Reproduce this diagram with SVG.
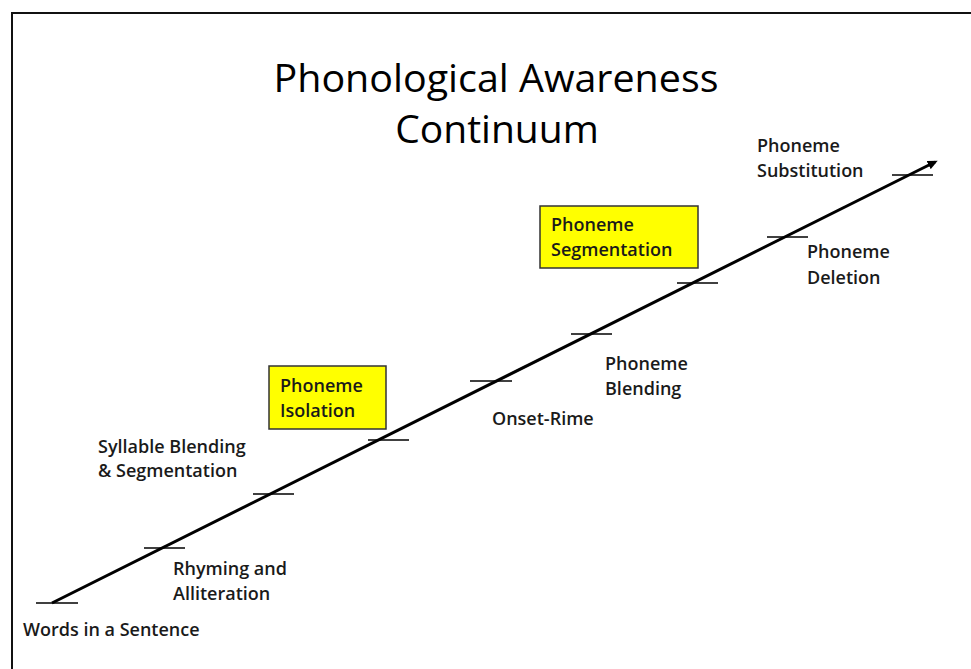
<svg xmlns="http://www.w3.org/2000/svg" width="971" height="669" viewBox="0 0 971 669">
<style>
.lbl{font-family:"Open Sans","Liberation Sans",sans-serif;font-size:18px;font-weight:600;fill:#1a1a1a;}
.title{font-family:"Open Sans","Liberation Sans",sans-serif;font-size:39px;fill:#000;text-anchor:middle;}
.tick{stroke:#000;stroke-width:1.3;}
.box{fill:#ffff00;stroke:#333;stroke-width:1.5;}
</style>
<defs>
<marker id="ah" markerWidth="10" markerHeight="9" refX="7" refY="4.5" orient="auto" markerUnits="userSpaceOnUse" viewBox="0 0 10 9">
<path d="M0,0 L10,4.5 L0,9 Z" fill="#000"/>
</marker>
</defs>
<rect width="971" height="669" fill="#fff"/>
<path d="M12,669 V13 H971" fill="none" stroke="#111" stroke-width="2"/>
<g id="title">
<text class="title" x="496" y="92" textLength="445" lengthAdjust="spacingAndGlyphs">Phonological Awareness</text>
<text class="title" x="497" y="143">Continuum</text>
</g>
<g id="connectors">
<line x1="52" y1="603" x2="935" y2="162" stroke="#000" stroke-width="3" marker-end="url(#ah)"/>
<line class="tick" x1="36" y1="603" x2="78" y2="603"/>
<line class="tick" x1="144" y1="548" x2="185" y2="548"/>
<line class="tick" x1="253" y1="494" x2="294" y2="494"/>
<line class="tick" x1="368" y1="440" x2="409" y2="440"/>
<line class="tick" x1="470" y1="381" x2="512" y2="381"/>
<line class="tick" x1="571" y1="334" x2="612" y2="334"/>
<line class="tick" x1="677" y1="283" x2="718" y2="283"/>
<line class="tick" x1="767" y1="237" x2="808" y2="237"/>
<line class="tick" x1="892" y1="175" x2="933" y2="175"/>
</g>
<g id="n-words"><text class="lbl" x="23" y="636">Words in a Sentence</text></g>
<g id="n-rhyming"><text class="lbl" x="173" y="575">Rhyming and</text><text class="lbl" x="173" y="600">Alliteration</text></g>
<g id="n-syllable"><text class="lbl" x="98" y="453">Syllable Blending</text><text class="lbl" x="98" y="477">&amp; Segmentation</text></g>
<g id="n-isolation"><rect class="box" x="269" y="366" width="117" height="63"/><text class="lbl" x="280" y="392">Phoneme</text><text class="lbl" x="280" y="417">Isolation</text></g>
<g id="n-onset"><text class="lbl" x="492" y="425">Onset-Rime</text></g>
<g id="n-blending"><text class="lbl" x="605" y="370">Phoneme</text><text class="lbl" x="605" y="395">Blending</text></g>
<g id="n-segmentation"><rect class="box" x="540" y="206" width="158" height="62"/><text class="lbl" x="551" y="231">Phoneme</text><text class="lbl" x="551" y="256">Segmentation</text></g>
<g id="n-deletion"><text class="lbl" x="807" y="258">Phoneme</text><text class="lbl" x="807" y="284">Deletion</text></g>
<g id="n-substitution"><text class="lbl" x="757" y="152">Phoneme</text><text class="lbl" x="757" y="177">Substitution</text></g>
</svg>
